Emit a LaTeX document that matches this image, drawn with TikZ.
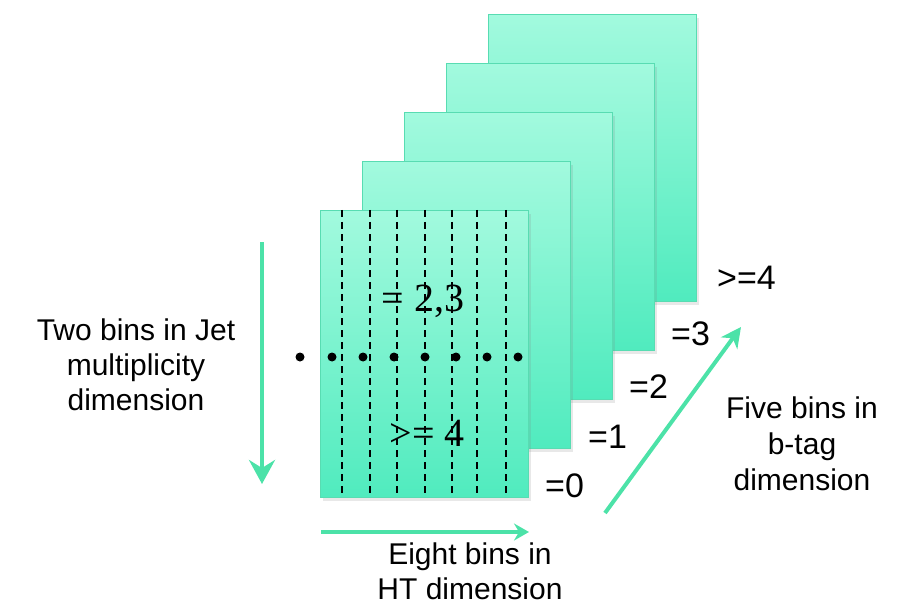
\documentclass[tikz,border=0pt]{standalone}
\usepackage{fontspec}
\setmainfont{Liberation Sans}
\newfontfamily\timesf{Liberation Serif}
\usetikzlibrary{arrows.meta,shadows}
\definecolor{cardtop}{HTML}{A2FADE}
\definecolor{cardbot}{HTML}{50EBBE}
\definecolor{cardedge}{HTML}{58DCB2}
\definecolor{arrowgreen}{HTML}{4CE2A8}
\tikzset{
  card/.style={draw=cardedge, line width=1.2pt, top color=cardtop, bottom color=cardbot,
    minimum width=208pt, minimum height=287pt, anchor=north west, inner sep=0pt,
    drop shadow={opacity=0.18, shadow xshift=2pt, shadow yshift=-3pt}},
  binline/.style={line width=1.6pt, dash pattern=on 7pt off 5pt},
  bigdot/.style={circle, fill=black, minimum size=9pt, inner sep=0pt},
  axisarrow/.style={draw=arrowgreen, line width=4pt},
  lbl/.style={font=\fontsize{30}{35}\selectfont, align=center, inner sep=0pt},
  numlbl/.style={font=\fontsize{34}{36}\selectfont, anchor=base west, inner sep=0pt},
  serlbl/.style={font=\timesf\fontsize{40}{42}\selectfont, anchor=base, inner sep=0pt}
}
\begin{document}
\begin{tikzpicture}[x=1pt,y=-1pt]
\useasboundingbox (0,0) rectangle (903,615);
% cards back to front
\node[card] (c4) at (488,14) {};
\node[card] (c3) at (446,63) {};
\node[card] (c2) at (404,112) {};
\node[card] (c1) at (362,161) {};
\node[card] (c0) at (320,210) {};
% dashed bin lines
\foreach \x in {342,370,397,425,452,477,506}{
  \draw[binline] (\x,210) -- (\x,497);
}
% dots
\foreach \x [count=\i] in {300,332,363,394,425,456,487,518}{
  \node[bigdot] (d\i) at (\x,357) {};
}
% texts on front card
\node[serlbl] (t23) at (423,311) {= 2,3};
\node[serlbl] (t4) at (427,446) {>= 4};
% b-tag labels
\node[numlbl] (b0) at (545,497) {=0};
\node[numlbl] (b1) at (588,448) {=1};
\node[numlbl] (b2) at (629,398) {=2};
\node[numlbl] (b3) at (671,345) {=3};
\node[numlbl] (b4) at (717,289) {>=4};
% arrows
\coordinate (va) at (262,242);
\coordinate (vb) at (262,484);
\coordinate (ha) at (321,532);
\coordinate (hb) at (529,532);
\coordinate (da) at (605,513);
\coordinate (db) at (741,327);
\draw[axisarrow, -{Stealth[length=24pt,width=26pt,inset=8pt]}] (va) -- (vb);
\draw[axisarrow, -{Stealth[length=15pt,width=17pt,inset=5pt]}] (ha) -- (hb);
\draw[axisarrow, -{Stealth[length=20pt,width=20pt,inset=6pt]}] (da) -- (db);
% descriptions
\node[lbl] (jet) at (136,365) {Two bins in Jet\\multiplicity\\dimension};
\node[lbl] (ht) at (470,571) {Eight bins in\\HT dimension};
\node[lbl, font=\fontsize{30}{36}\selectfont] (bt) at (802,444) {Five bins in\\b-tag\\dimension};
\end{tikzpicture}
\end{document}
